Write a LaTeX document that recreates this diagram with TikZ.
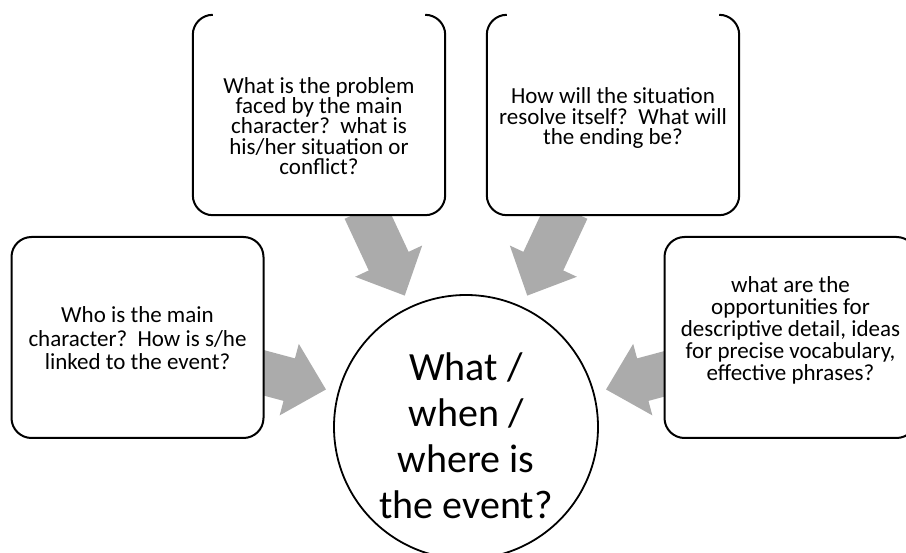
\documentclass[tikz,border=0pt]{standalone}
\usepackage{fontspec}
\setmainfont{Carlito}
\usepackage{tikz}
\usetikzlibrary{positioning}

\begin{document}
\begin{tikzpicture}[x=1pt,y=1pt,
    qbox/.style={fill=white,rounded corners=20pt,minimum width=252pt,minimum height=200pt,inner sep=0pt},
    qtext/.style={inner sep=0pt,align=center,font=\fontsize{23}{#1}\selectfont},
    bigarrow/.style={fill=black!33,draw=none},
    hub/.style={circle,draw=black,line width=1.8pt,fill=white,minimum size=264pt,inner sep=0pt}]

    \clip (0,0) rectangle (906,-553);

    \node[hub] (event) at (466,-427) {};
    \node[align=center,inner sep=0pt,font=\fontsize{40}{46}\selectfont] (event-text) at ([yshift=-9pt]event.center) {What /\\when /\\where is\\the event?};

    \foreach \a in {15,65,115,165}
        \fill[bigarrow,shift={(event.center)},rotate=\a] (145,0) -- (183,37) -- (183,22) -- (240,22) -- (240,-22) -- (183,-22) -- (183,-37) -- cycle;

    \node[qbox] (problem) at (319,-115) {};
    \node[qbox] (ending) at (613,-115) {};
    \node[qbox,draw=black,line width=2pt,minimum height=201pt] (who) at (137.5,-337.5) {};
    \node[qbox,draw=black,line width=2pt,minimum height=201pt] (detail) at (790.5,-337.5) {};

    \draw[line width=2pt,rounded corners=20pt] ([xshift=20pt]problem.north west) -| (problem.south west) -| (problem.north east) -- ([xshift=-20pt]problem.north east);
    \draw[line width=2pt,rounded corners=20pt] ([xshift=20pt]ending.north west) -| (ending.south west) -| (ending.north east) -- ([xshift=-20pt]ending.north east);

    \node[qtext=20.3] (problem-text) at ([yshift=-11pt]problem.center) {What is the problem\\faced by the main\\character?\ \ what is\\his/her situation or\\conflict?};
    \node[qtext=20.5] (ending-text) at ([yshift=-3pt]ending.center) {How will the situation\\resolve itself?\ \ What will\\the ending be?};
    \node[qtext=23.5] (who-text) at ([yshift=-1pt]who.center) {Who is the main\\character?\ \ How is s/he\\linked to the event?};
    \node[qtext=22] (detail-text) at ([yshift=7pt]detail.center) {what are the\\opportunities for\\descriptive detail, ideas\\for precise vocabulary,\\effective phrases?};
\end{tikzpicture}
\end{document}
